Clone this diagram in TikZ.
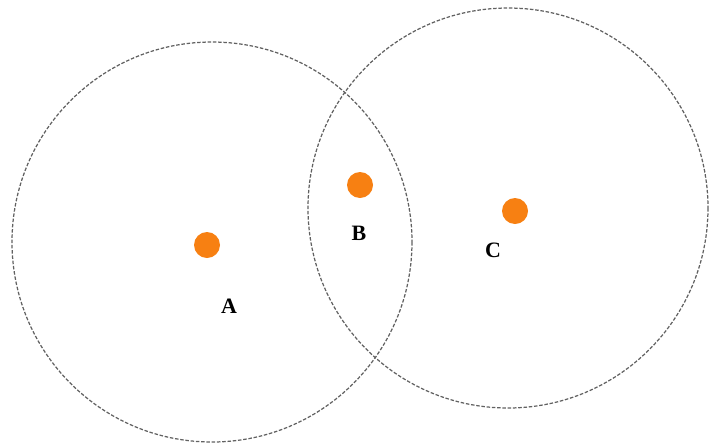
\documentclass[tikz,border=0pt]{standalone}
\usepackage{fontspec}
\setmainfont{Liberation Serif}
\usepackage{tikz}
\usetikzlibrary{positioning,calc}
\usepackage{xcolor}
\definecolor{dotorange}{RGB}{247,128,18}

\begin{document}
\begin{tikzpicture}[
    x=0.02cm, y=-0.02cm,
    cover/.style={draw=black!62, dashed, dash pattern=on 2pt off 1pt, line width=0.7pt},
    dot/.style={circle, fill=dotorange, inner sep=0pt, minimum size=0.52cm},
    lbl/.style={font=\fontsize{12.5}{13}\selectfont\bfseries, inner sep=1pt},
]
\useasboundingbox (0,0) rectangle (709,447);
% coverage areas
\coordinate (cA) at (212,242);
\coordinate (cC) at (508,208);
\draw[cover] (cA) circle[radius=200];
\draw[cover] (cC) circle[radius=200];
% nodes
\node[dot] (A) at (207,245) {};
\node[dot] (B) at (360,185) {};
\node[dot] (C) at (515,211) {};
\node[lbl] (lA) at (229,306) {A};
\node[lbl] (lB) at (359,233) {B};
\node[lbl] (lC) at (493,250) {C};
\end{tikzpicture}
\end{document}
